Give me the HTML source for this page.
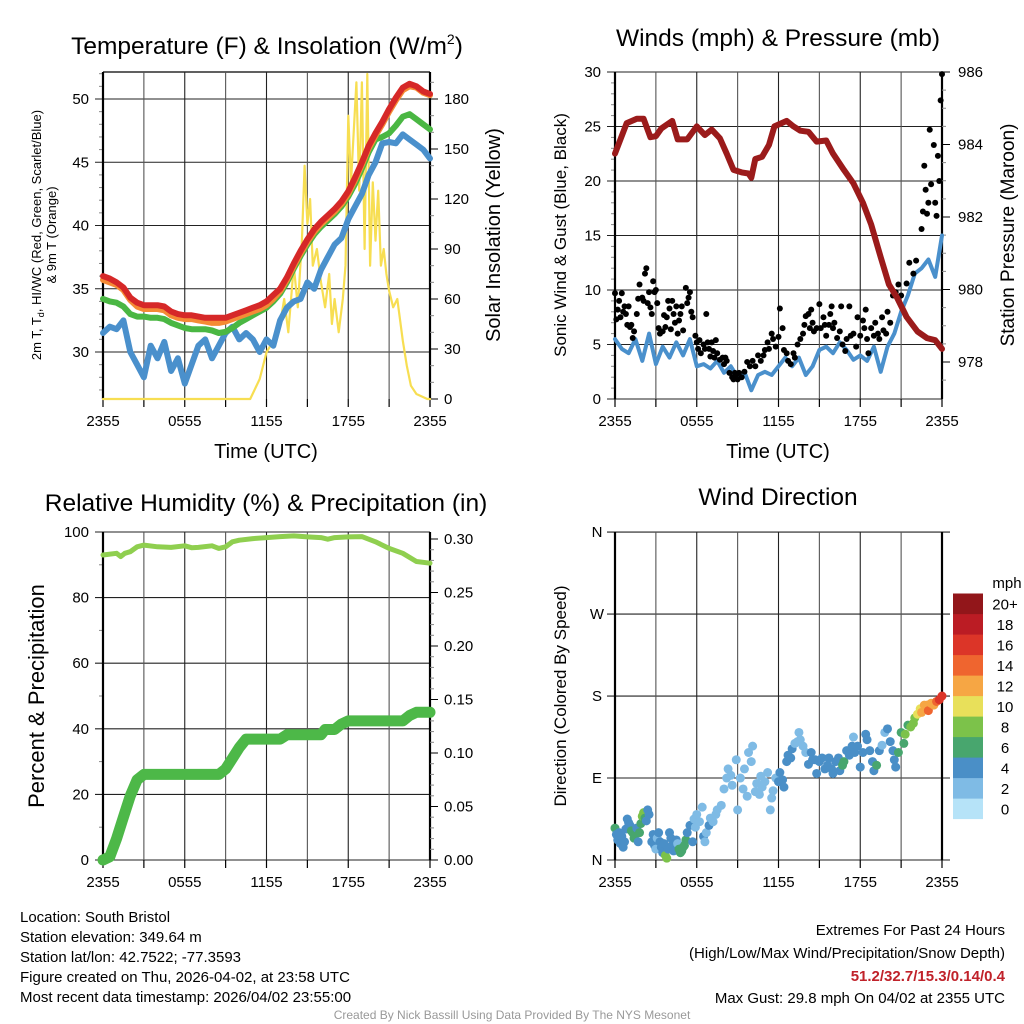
<!DOCTYPE html>
<html><head><meta charset="utf-8"><style>
html,body{margin:0;padding:0;background:#fff;}
svg{display:block;font-family:"Liberation Sans",sans-serif;}
</style></head><body>
<svg id="c" width="1024" height="1024" viewBox="0 0 1024 1024" xmlns="http://www.w3.org/2000/svg"></svg>
<script>
// ---- data (hours since 2355 UTC) ----
const hhHalf = [0,0.5,1,1.5,2,2.5,3,3.5,4,4.5,5,5.5,6,6.5,7,7.5,8,8.5,9,9.5,10,10.5,11,11.5,12,12.5,13,13.5,14,14.5,15,15.5,16,16.5,17,17.5,18,18.5,19,19.5,20,20.5,21,21.5,22,22.5,23,23.5,24];
const tempRed = [36.0,35.8,35.5,35.1,34.3,33.9,33.7,33.7,33.7,33.6,33.2,33.0,32.9,32.9,32.8,32.7,32.7,32.7,32.7,32.9,33.1,33.3,33.5,33.7,34.0,34.5,35.0,35.9,37.0,38.0,38.9,39.7,40.3,40.8,41.3,41.9,42.7,43.8,45.0,46.3,47.3,48.2,49.2,50.1,50.9,51.2,51.0,50.6,50.4];
const tempOrange = [35.7,35.5,35.3,34.9,34.1,33.6,33.4,33.4,33.4,33.3,32.9,32.7,32.6,32.6,32.5,32.4,32.3,32.3,32.4,32.6,32.8,33.0,33.2,33.4,33.7,34.2,34.8,35.7,36.8,37.8,38.7,39.5,40.1,40.6,41.1,41.7,42.5,43.6,44.8,46.1,47.1,48.0,49.0,49.9,50.7,51.0,50.9,50.5,50.3];
const tempGreen = [34.2,34.0,33.9,33.6,33.0,32.8,32.8,32.7,32.7,32.6,32.3,32.1,31.9,31.8,31.8,31.8,31.7,31.5,31.6,31.9,32.3,32.6,32.9,33.2,33.5,34.0,34.6,35.5,36.6,37.6,38.5,39.3,39.9,40.4,40.9,41.5,42.3,43.3,44.5,45.8,46.8,47.0,47.3,47.9,48.6,48.8,48.4,48.0,47.6];
const dewBlue = [31.5,32.0,31.8,32.5,30.0,29.0,28.0,30.5,29.5,30.8,28.5,29.5,27.5,29.0,30.5,31.0,29.5,30.5,31.5,32.0,31.0,31.5,31.0,30.0,31.0,30.5,32.5,33.5,34.0,34.2,35.5,35.0,36.5,37.5,38.5,39.0,40.5,41.5,42.5,44.0,45.0,46.5,46.6,46.5,47.2,46.8,46.4,46.0,45.3];
const solarH = [0,10.8,11.5,12,12.5,13,13.3,13.6,14,14.3,14.6,14.8,15,15.2,15.4,15.7,16,16.3,16.6,16.8,17,17.3,17.6,17.8,18,18.2,18.4,18.6,18.8,19,19.2,19.4,19.6,19.8,20,20.2,20.4,20.6,20.8,21,21.3,21.6,22,22.3,22.6,23,23.8,24];
const solarVal = [0,0,12,28,35,45,60,40,80,55,95,140,105,120,80,90,70,55,75,45,60,40,60,80,170,130,160,190,125,190,90,195,80,130,95,125,80,90,75,65,55,60,35,20,8,3,0,0];
const windBlue = [5.5,4.6,4.2,5.5,3.5,6.0,3.2,4.8,3.8,5.2,4.0,5.5,3.0,3.2,2.8,3.5,2.4,3.0,2.0,2.5,0.8,2.2,2.5,2.2,3.0,3.8,3.0,3.8,2.2,3.0,4.5,4.8,4.2,5.2,4.5,3.6,4.0,3.5,4.8,2.5,4.8,6.0,8.0,9.5,11.5,12.0,12.8,11.2,15.0];
const gustH = [0,0.1,0.2,0.3,0.4,0.5,0.6,0.7,0.8,0.9,1.0,1.1,1.2,1.3,1.4,1.6,1.7,1.8,2.0,2.1,2.2,2.3,2.4,2.5,2.6,2.7,2.8,2.9,3.0,3.1,3.2,3.3,3.5,3.6,3.7,3.8,3.9,4.0,4.1,4.2,4.3,4.4,4.5,4.6,4.7,4.8,4.9,5.0,5.2,5.3,5.4,5.5,5.6,5.7,5.9,6.0,6.1,6.2,6.3,6.5,6.6,6.7,6.8,6.9,7.0,7.1,7.2,7.3,7.4,7.5,7.7,7.9,8.0,8.1,8.2,8.4,8.6,8.7,8.8,8.9,9.0,9.1,9.3,9.5,9.7,9.9,10.1,10.3,10.5,10.7,10.9,11.0,11.2,11.3,11.5,11.6,11.8,12.0,12.1,12.3,12.4,12.6,12.7,12.9,13.1,13.2,13.4,13.6,13.8,13.9,14.0,14.2,14.3,14.4,14.5,14.6,14.8,15.0,15.1,15.3,15.4,15.5,15.7,15.8,15.9,16.0,16.1,16.3,16.5,16.6,16.7,16.9,17.0,17.2,17.3,17.5,17.7,17.8,18.0,18.2,18.3,18.4,18.5,18.6,18.8,19.0,19.1,19.3,19.4,19.6,19.7,19.9,20.0,20.2,20.4,20.6,20.8,21.0,21.4,21.6,21.9,22.1,22.5,22.6,22.7,22.8,22.9,23.0,23.1,23.2,23.4,23.5,23.6,23.7,23.8,23.9,24.0];
const gustVal = [9.7,7.3,8.2,9.0,7.5,9.7,8.0,8.5,7.8,6.8,8.5,6.6,6.8,5.6,6.2,7.8,9.2,10.5,9.3,9.0,11.5,12.0,8.8,9.8,8.4,7.8,10.8,9.8,10.0,8.8,6.5,6.0,6.2,7.7,6.6,7.5,9.0,8.3,6.4,9.0,7.8,7.0,8.5,6.0,7.2,7.8,8.5,6.3,10.2,8.8,9.3,9.8,8.0,7.5,5.8,5.2,4.6,5.4,4.2,5.0,4.6,7.8,5.2,4.6,3.9,5.2,4.4,3.8,5.4,4.2,3.6,3.8,3.2,3.8,3.5,2.4,2.0,1.8,2.4,2.2,1.8,2.4,2.0,2.5,3.4,3.0,3.5,3.0,4.0,3.5,4.0,4.5,5.2,4.6,6.0,5.5,4.8,5.7,8.3,6.5,4.5,4.2,3.5,3.2,4.2,3.8,5.0,5.5,6.0,6.8,7.6,7.8,6.5,8.2,7.0,6.2,6.5,8.7,6.5,7.5,6.8,5.8,6.8,7.8,8.5,6.5,7.0,5.6,6.2,8.5,5.0,4.4,5.5,8.5,5.8,6.0,4.8,7.5,5.8,7.2,6.5,8.2,5.5,4.2,6.5,5.8,7.0,6.0,5.5,7.5,6.3,6.0,8.0,7.0,9.5,9.8,10.5,9.5,10.6,12.5,11.5,12.7,15.6,17.2,21.4,19.2,17.0,18.0,24.7,19.7,23.3,18.0,16.8,22.3,20.0,27.4,29.8];
const pressH = [0,0.86,1.6,2.1,2.6,3.0,3.4,4.2,4.6,5.3,6.0,6.6,7.1,7.7,8.2,8.7,9.3,9.8,10.0,10.3,10.8,11.3,11.7,12.6,13.1,13.6,14.2,14.8,15.5,16.0,16.8,17.5,18.2,18.8,19.5,20.1,20.7,21.4,22.2,22.9,23.5,24];
const pressVal = [983.75,984.59,984.71,984.71,984.2,984.23,984.44,984.65,984.14,984.14,984.5,984.26,984.41,984.17,983.75,983.3,983.23,983.2,983.08,983.6,983.66,983.99,984.5,984.65,984.5,984.38,984.35,984.08,984.11,983.75,983.3,982.93,982.39,981.79,980.89,980.14,979.78,979.24,978.84,978.66,978.6,978.36];
const rhH = [0,1,1.3,1.6,2,2.5,3,4,5,6,6.5,7,8,8.5,9,9.5,10,11,12,13,14,15,16,16.5,17,18,19,20,21,22,23,24];
const rhVal = [93,93.5,92.5,93.5,94,95.5,96,95.5,95.3,95.8,95.2,95.3,95.8,95,95.5,97,97.5,98,98.3,98.6,98.8,98.5,98.3,97.8,98.3,98.5,98.6,97,95,93.5,91,90.5];
const precipH = [0,0.5,1,1.5,2,2.5,3,8.5,9,9.5,10,10.5,11,13,13.5,16,16.3,17,17.5,18,22,22.5,23,24];
const precipVal = [0,0.003,0.02,0.04,0.06,0.075,0.08,0.08,0.085,0.095,0.105,0.113,0.113,0.113,0.117,0.117,0.122,0.122,0.127,0.13,0.13,0.135,0.138,0.138];
const dirH = [0,0.1,0.2,0.3,0.4,0.5,0.6,0.7,0.8,0.9,1.0,1.1,1.2,1.3,1.4,1.5,1.6,1.7,1.8,1.9,2.0,2.1,2.2,2.3,2.4,2.5,2.7,2.8,2.9,3.0,3.1,3.2,3.3,3.4,3.5,3.6,3.7,3.8,3.9,4.0,4.1,4.2,4.3,4.5,4.6,4.7,4.8,4.9,5.0,5.1,5.2,5.3,5.5,5.7,5.8,5.9,6.0,6.2,6.4,6.5,6.6,6.7,6.9,7.0,7.2,7.4,7.5,7.8,8.0,8.2,8.3,8.5,8.6,8.9,9.0,9.2,9.4,9.5,9.7,9.8,10.0,10.1,10.3,10.4,10.6,10.7,10.8,11.0,11.2,11.4,11.5,11.6,11.8,12.0,12.1,12.3,12.4,12.6,12.7,12.9,13.0,13.2,13.4,13.5,13.6,13.8,14.0,14.2,14.4,14.5,14.7,14.8,15.0,15.2,15.4,15.6,15.7,15.9,16.0,16.2,16.4,16.5,16.7,16.8,17.0,17.2,17.4,17.5,17.6,17.8,18.0,18.2,18.4,18.5,18.7,18.9,19.0,19.2,19.4,19.6,19.8,20.0,20.2,20.4,20.5,20.6,20.8,21.0,21.2,21.3,21.5,21.7,21.9,22.0,22.2,22.4,22.5,22.7,22.9,23.0,23.2,23.4,23.6,23.8,24.0];
const dirVal = [35,28,22,30,18,26,14,20,34,45,41,38,32,30,24,28,35,20,30,40,48,52,46,43,55,50,20,28,16,12,24,30,20,14,8,18,5,2,12,30,24,16,10,22,18,12,8,10,14,16,22,30,38,20,45,36,50,42,58,26,20,30,38,46,42,50,55,60,78,90,100,93,82,110,55,90,78,100,70,118,108,125,75,84,72,92,80,86,96,55,68,76,90,86,96,88,80,108,115,112,122,128,130,140,132,125,118,105,118,110,110,95,108,112,100,104,112,100,95,108,112,98,104,108,120,115,125,135,118,125,102,118,138,132,120,108,98,104,120,126,140,144,130,120,110,102,118,140,128,138,148,146,150,156,160,166,162,170,170,164,172,170,174,176,180];
const dirSpd = [6,4,4,4,3,4,4,4,4,4,4,3,6,6,6,6,4,4,5,6,7,7,6,4,4,4,4,3,3,2,2,3,4,4,4,4,7,7,4,4,4,4,4,4,2,6,6,6,6,6,6,4,4,4,2,2,2,2,2,4,2,2,4,2,2,2,2,2,2,2,2,2,2,2,2,1,1,1,1,1,1,1,1,2,2,2,2,2,2,2,2,2,2,4,4,4,4,4,4,4,3,2,2,2,2,2,2,4,4,4,4,4,4,4,4,4,4,4,4,4,4,4,6,6,4,4,4,2,4,4,4,4,4,4,4,4,4,6,4,2,2,4,4,4,4,4,6,6,6,7,6,7,8,8,10,10,12,12,12,14,12,12,14,16,16];
const cbarLabels = ["0","2","4","6","8","10","12","14","16","18","20+"];
const cbarColors = ["#b6e3f8","#7fbbe5","#4a8fc7","#48a66e","#7cc24a","#e8e05a","#f6a644","#ef652f","#dc3528","#bb1c24","#92161a"];

// ---- drawing helpers ----
const S = document.getElementById('c');
const NS = 'http://www.w3.org/2000/svg';
function el(tag, attrs, parent, text){
  const e = document.createElementNS(NS, tag);
  for (const k in attrs) e.setAttribute(k, attrs[k]);
  if (text !== undefined) e.textContent = text;
  (parent || S).appendChild(e);
  return e;
}
function group(name){
  const g = el('g', {});
  
  
  return g;
}
function txt(g, x, y, s, size, anchor, name, extra){
  const a = {x:x, y:y, 'font-size':size, 'text-anchor':anchor||'middle', fill:'#000'};
  if (extra) for (const k in extra) a[k] = extra[k];
  const t = el('text', a, g, s);
  
  
  return t;
}
function line(g,x1,y1,x2,y2,stroke,w){ return el('line',{x1:x1,y1:y1,x2:x2,y2:y2,stroke:stroke,'stroke-width':w},g); }
const xLabs = ["2355","0555","1155","1755","2355"];

function frame(g, x0, x1, y0, y1, xs){
  for (let h=0; h<=24; h+=3){
    const x = xs(h);
    line(g,x,y0,x,y1,(h%6===0)?'#222':'#555',1.1);
    line(g,x,y1,x,y1+8,'#000',1.2);
  }
  line(g,x0,y0,x0,y1,'#000',2.2);
  line(g,x1,y0,x1,y1,'#000',2.2);
  for (let i=0;i<5;i++){
    txt(g, xs(i*6), y1+27, xLabs[i], 15, 'middle', 'x-tick-label');
  }
}
function path(g, xsArr, ysArr, xs, ys, color, w, name){
  let d='';
  for (let i=0;i<xsArr.length;i++) d += (i?'L':'M') + xs(xsArr[i]).toFixed(1) + ' ' + ys(ysArr[i]).toFixed(1);
  const p = el('path',{d:d,fill:'none',stroke:color,'stroke-width':w,'stroke-linejoin':'round','stroke-linecap':'round'},g);
  
  
  return p;
}

// ===== Panel 1: Temperature =====
(function(){
  const g = group('temperature-panel');
  const x0=103,x1=430,y0=72,y1=399;
  const xs = h => x0 + h*(x1-x0)/24;
  const yT = v => 352 - (v-30)*12.65;
  const yS = v => 399 - v*300/180;
  for (let v=30; v<=50; v+=5){ line(g,x0-8,yT(v),x1,yT(v),'#222',1.1); txt(g,x0-14,yT(v)+5,String(v),15,'end','y-tick-label'); }
  for (let v=27; v<=52; v++){ if (v%5) line(g,x0-4,yT(v),x0,yT(v),'#888',1); }
  line(g,x0,y0,x1,y0,'#000',1.2);
  frame(g,x0,x1,y0,y1,xs);
  for (let v=0; v<=195; v+=10){ line(g,x1,yS(v),x1+(v%30===0?8:4),yS(v),v%30===0?'#000':'#888',1); }
  for (let v=0; v<=180; v+=30) txt(g,x1+14,yS(v)+5,String(v),15,'start','right-tick-label');
  path(g,solarH,solarVal,xs,yS,'#f7de52',2.2,'solar-insolation-line');
  path(g,hhHalf,dewBlue,xs,yT,'#4a90cc',6,'dewpoint-line');
  path(g,hhHalf,tempGreen,xs,yT,'#4ab743',6,'heat-index-line');
  path(g,hhHalf,tempOrange,xs,yT,'#f58b35',6,'temp-9m-line');
  path(g,hhHalf,tempRed,xs,yT,'#d62828',6,'temp-2m-line');
  const t = txt(g,267,54,'Temperature (F) & Insolation (W/m',24.5,'middle','panel-title');
  el('tspan',{'font-size':14,dy:-10},t,'2');
  el('tspan',{dy:10},t,')');
  txt(g,266,458,'Time (UTC)',20,'middle','x-axis-title');
  const yl = el('text',{x:0,y:0,'font-size':13,'text-anchor':'middle',transform:'translate(41,235) rotate(-90)'},g);
  
  
  el('tspan',{},yl,'2m T, T');
  el('tspan',{'font-size':9,dy:3},yl,'d');
  el('tspan',{dy:-3},yl,', HI/WC (Red, Green, Scarlet/Blue)');
  txt(g,0,0,'& 9m T (Orange)',13,'middle','y-axis-title-2',{transform:'translate(56,235) rotate(-90)'});
  txt(g,0,0,'Solar Insolation (Yellow)',20,'middle','right-axis-title',{transform:'translate(500,235) rotate(-90)'});
})();

// ===== Panel 2: Winds & pressure =====
(function(){
  const g = group('winds-pressure-panel');
  const x0=615,x1=942,y0=72,y1=399;
  const xs = h => x0 + h*(x1-x0)/24;
  const yW = v => 399 - v*10.9;
  const yP = p => 362 - (p-978)*36.25;
  for (let v=0; v<=30; v+=5){ line(g,x0-8,yW(v),x1,yW(v),'#222',1.1); txt(g,x0-14,yW(v)+5,String(v),15,'end','y-tick-label'); }
  for (let v=1; v<30; v++){ if (v%5) line(g,x0-4,yW(v),x0,yW(v),'#888',1); }
  frame(g,x0,x1,y0,y1,xs);
  for (let p=977.5; p<=986; p+=0.5){ const maj = (p%2===0); line(g,x1,yP(p),x1+(maj?8:4),yP(p),maj?'#000':'#888',1); }
  for (let p=978; p<=986; p+=2) txt(g,x1+16,yP(p)+5,String(p),15,'start','right-tick-label');
  path(g,hhHalf,windBlue,xs,yW,'#4a90cc',4,'sonic-wind-line');
  for (let i=0;i<gustH.length;i++){
    const c = el('circle',{cx:xs(gustH[i]),cy:yW(gustVal[i]),r:3,fill:'#000'},g);
    
    
  }
  path(g,pressH,pressVal,xs,yP,'#9b1b1b',6,'pressure-line');
  txt(g,778,46,'Winds (mph) & Pressure (mb)',24.5,'middle','panel-title');
  txt(g,778,458,'Time (UTC)',20,'middle','x-axis-title');
  txt(g,0,0,'Sonic Wind & Gust (Blue, Black)',17,'middle','y-axis-title',{transform:'translate(566,235) rotate(-90)'});
  txt(g,0,0,'Station Pressure (Maroon)',19,'middle','right-axis-title',{transform:'translate(1014,235) rotate(-90)'});
})();

// ===== Panel 3: RH & precip =====
(function(){
  const g = group('humidity-precip-panel');
  const x0=103,x1=430,y0=532,y1=860;
  const xs = h => x0 + h*(x1-x0)/24;
  const yR = v => 860 - v*3.28;
  const yPr = v => 860 - v*1070;
  for (let v=0; v<=100; v+=20){ line(g,x0-8,yR(v),x1,yR(v),'#222',1.1); txt(g,x0-14,yR(v)+5,String(v),15,'end','y-tick-label'); }
  for (let v=10; v<100; v+=20) line(g,x0-4,yR(v),x0,yR(v),'#888',1);
  frame(g,x0,x1,y0,y1,xs);
  for (let k=0; k<=30; k++){ const v=k/100; const maj=(k%5===0); line(g,x1,yPr(v),x1+(maj?8:4),yPr(v),maj?'#000':'#888',1); if(maj) txt(g,x1+14,yPr(v)+5,v.toFixed(2),15,'start','right-tick-label'); }
  path(g,rhH,rhVal,xs,yR,'#8fcf4f',5,'relative-humidity-line');
  path(g,precipH,precipVal,xs,yPr,'#4db848',11,'precipitation-line');
  txt(g,266,511,'Relative Humidity (%) & Precipitation (in)',24.5,'middle','panel-title');
  txt(g,0,0,'Percent & Precipitation',22,'middle','y-axis-title',{transform:'translate(44,696) rotate(-90)'});
})();

// ===== Panel 4: Wind direction =====
(function(){
  const g = group('wind-direction-panel');
  const x0=615,x1=942,y0=532,y1=860;
  const xs = h => x0 + h*(x1-x0)/24;
  const yD = d => 860 - d*0.911;
  const dl = ['N','E','S','W','N'];
  for (let i=0;i<5;i++){ const y=yD(i*90); line(g,x0-8,y,x1+8,y,'#222',1.1); txt(g,x0-18,y+5,dl[i],15,'middle','y-tick-label'); }
  frame(g,x0,x1,y0,y1,xs);
  for (let i=0;i<dirH.length;i++){
    const idx = Math.min(10, Math.max(0, Math.round(dirSpd[i]/2)));
    const c = el('circle',{cx:xs(dirH[i]),cy:yD(dirVal[i]),r:4.5,fill:cbarColors[idx]},g);
    
    
  }
  txt(g,778,505,'Wind Direction',24.5,'middle','panel-title');
  txt(g,0,0,'Direction (Colored By Speed)',17,'middle','y-axis-title',{transform:'translate(566,696) rotate(-90)'});
  const cb = group('speed-colorbar');
  for (let i=0;i<11;i++){
    const y = 819 - (i+1)*20.5;
    const r = el('rect',{x:953,y:y,width:30,height:20.6,fill:cbarColors[i]},cb);
    
    
    txt(cb,1005,y+16,cbarLabels[i],15,'middle','colorbar-label');
  }
  txt(cb,1007,588,'mph',15,'middle','colorbar-title');
})();

// ===== Footer text =====
(function(){
  const g = group('station-info');
  const L = ['Location: South Bristol','Station elevation: 349.64 m','Station lat/lon: 42.7522; -77.3593','Figure created on Thu, 2026-04-02, at 23:58 UTC','Most recent data timestamp: 2026/04/02 23:55:00'];
  for (let i=0;i<L.length;i++) txt(g,20,922+i*20,L[i],15,'start','info-line');
  const r = group('extremes-summary');
  txt(r,1005,935,'Extremes For Past 24 Hours',15,'end','extremes-title');
  txt(r,1005,958,'(High/Low/Max Wind/Precipitation/Snow Depth)',15,'end','extremes-subtitle');
  txt(r,1005,981,'51.2/32.7/15.3/0.14/0.4',15,'end','extremes-values',{fill:'#c0222a','font-weight':'bold'});
  txt(r,1005,1003,'Max Gust: 29.8 mph On 04/02 at 2355 UTC',15,'end','max-gust');
  txt(g,512,1019,'Created By Nick Bassill Using Data Provided By The NYS Mesonet',12,'middle','credit-line',{fill:'#999'});
})();
</script>
</body></html>
